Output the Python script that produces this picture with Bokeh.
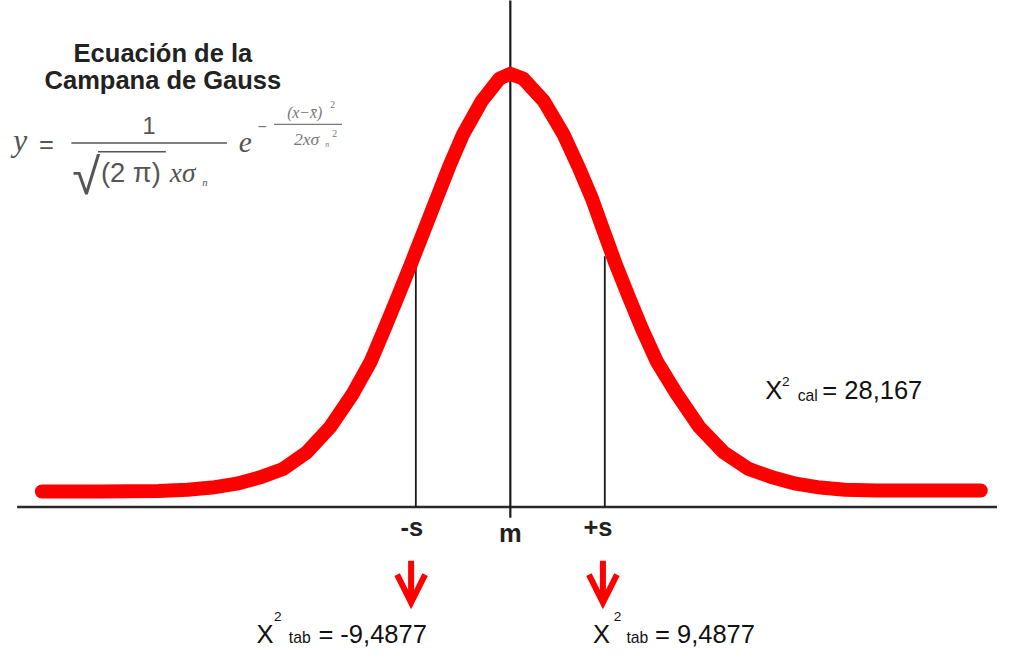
from bokeh.plotting import figure
from bokeh.models import Range1d, Arrow, OpenHead
from bokeh.core.properties import value
from bokeh.embed import file_html
from bokeh.resources import INLINE

# ---------------- data ----------------
# x in units of s (standard deviations) from the mean m, y = relative height (peak = 1)
curve_x = [-4.958, -4.354, -3.729, -3.417, -3.156, -2.896, -2.656, -2.406, -2.156, -1.906,
           -1.667, -1.479, -1.333, -1.188, -1.052, -0.917, -0.781, -0.646, -0.500, -0.302,
           -0.115, 0.000, 0.135, 0.354, 0.563, 0.719, 0.865, 0.990, 1.115, 1.250, 1.396,
           1.552, 1.760, 2.000, 2.260, 2.521, 2.781, 3.021, 3.281, 3.542, 3.875, 4.500, 4.979]
curve_y = [0.036, 0.036, 0.037, 0.040, 0.045, 0.054, 0.068, 0.088, 0.126, 0.185,
           0.262, 0.336, 0.411, 0.488, 0.562, 0.637, 0.713, 0.788, 0.862, 0.939,
           0.991, 1.002, 0.991, 0.939, 0.862, 0.788, 0.713, 0.637, 0.562, 0.488, 0.411,
           0.336, 0.262, 0.185, 0.126, 0.088, 0.068, 0.054, 0.045, 0.040, 0.038, 0.038, 0.038]

marker_labels = ["-s", "m", "+s"]
marker_x = [-1.0, 0.0, 1.0]
marker_top = [0.58, 1.18, 0.58]
axis_start = -5.22

chi_cal = "28,167"
chi_tab = ["-9,4877", "9,4877"]
arrow_x = [-1.05, 0.98]

# ---------------- helpers: reference pixel -> data units (annotations only) ----------------
X0, SX = 518.0, 96.0
Y0, SY = 519.0, 443.0
REF_W, REF_H = 1013, 664
W, H = 997, 648
FS = 0.98        # font scale (canvas is slightly smaller than the reference)
BASE_FIX = 0.30  # the rendered alphabetic baseline sits ~0.3 em lower than asked


def dx(px):
    return (px - X0) / SX


def dy(py):
    return (Y0 - py) / SY


p = figure(width=W, height=H, output_backend="svg", toolbar_location=None,
           x_range=Range1d(dx(0), dx(REF_W)), y_range=Range1d(dy(REF_H), dy(0)),
           x_axis_location=None, y_axis_location=None, min_border=0)
p.grid.visible = False
p.outline_line_color = None
p.background_fill_color = "white"
p.border_fill_color = "white"


def txt(px_x, px_y, s, size, font="Liberation Sans", style="normal", color="#111111", align="left"):
    p.text(x=[dx(px_x)], y=[dy(px_y - BASE_FIX * size)], text=[s], text_font=value(font),
           text_font_size=value(f"{size * FS:.1f}px"), text_font_style=style, text_color=color,
           text_align=align, text_baseline="alphabetic")


# horizontal axis line
p.segment(x0=[axis_start], y0=[0], x1=[dx(REF_W)], y1=[0], line_color="#2a2a2a", line_width=2.3)

# vertical lines at -s, m, +s
m_bottom = dy(530)
p.segment(x0=marker_x, y0=[0, m_bottom, 0], x1=marker_x, y1=marker_top,
          line_color="#1a1a1a", line_width=[1.8, 2.2, 1.8])

# the bell curve
p.line(curve_x, curve_y, line_color="#ff0000", line_width=14,
       line_cap="round", line_join="round")

# labels under the axis
lab_px = [(418, 547), (518, 553), (607, 547)]
for (lx, ly), lab in zip(lab_px, marker_labels):
    txt(lx, ly, lab, 26, style="bold", color="#222222", align="center")

# title
txt(165, 62, "Ecuación de la", 26, style="bold", color="#222222", align="center")
txt(165, 89, "Campana de Gauss", 26, style="bold", color="#222222", align="center")

# formula
fc = "#555555"
txt(13, 153, "y", 32, font="Liberation Serif", style="italic", color=fc)
txt(39, 155, "=", 26, color=fc)
txt(151, 135, "1", 24, color=fc, align="center")
p.segment(x0=[dx(72)], y0=[dy(146)], x1=[dx(230)], y1=[dy(146)], line_color=fc, line_width=1.5)
txt(73, 196, "√", 52, font="Liberation Sans", color=fc)
p.segment(x0=[dx(99)], y0=[dy(155)], x1=[dx(168)], y1=[dy(155)], line_color=fc, line_width=1.5)
txt(102, 185, "(2 π)", 28, color=fc)
txt(172, 185, "xσ", 28, font="Liberation Serif", style="italic", color=fc)
txt(205, 189, "n", 11, font="Liberation Serif", style="italic", color=fc)
txt(242, 155, "e", 30, font="Liberation Serif", style="italic", color=fc)
fc2 = "#777777"
txt(261, 133, "−", 16, color=fc2)
p.segment(x0=[dx(278)], y0=[dy(127)], x1=[dx(347)], y1=[dy(127)], line_color=fc2, line_width=1.2)
txt(309, 120, "(x−x̄)", 16, font="Liberation Serif", style="italic", color=fc2, align="center")
txt(335, 110, "2", 10, font="Liberation Serif", color=fc2)
txt(311, 147, "2xσ", 18, font="Liberation Serif", style="italic", color=fc2, align="center")
txt(330, 150, "n", 8, font="Liberation Serif", style="italic", color=fc2)
txt(337, 139, "2", 10, font="Liberation Serif", color=fc2)

# X² cal
txt(777, 407, "X", 26)
txt(794, 395, "2", 14)
txt(810, 410, "cal", 16)
txt(835, 407, "= " + chi_cal, 26)

# X² tab labels
for (lx, sup_x, sub_x, eq_x), val in zip([(260, 278, 293, 323), (602, 623, 636, 665)], chi_tab):
    txt(lx, 657, "X", 26)
    txt(sup_x, 635, "2", 14)
    txt(sub_x, 658, "tab", 16)
    txt(eq_x, 657, "= " + val, 26)

# red arrows
for ax in arrow_x:
    p.add_layout(Arrow(end=OpenHead(size=28, line_color="#ff0000", line_width=6, line_join="miter"),
                       x_start=ax, y_start=dy(574), x_end=ax, y_end=dy(617),
                       line_color="#ff0000", line_width=6))

open("out.html", "w").write(file_html(p, INLINE))
